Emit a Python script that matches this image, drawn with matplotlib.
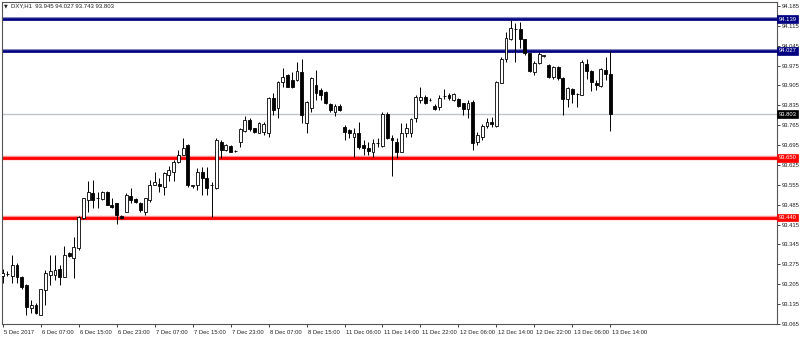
import matplotlib
matplotlib.use("Agg")
import matplotlib.pyplot as plt
import matplotlib.transforms as mtransforms
import numpy as np

opens = [93.235, 93.24, 93.234, 93.273, 93.232, 93.203, 93.12, 93.132, 93.097, 93.185,
         93.238, 93.238, 93.26, 93.232, 93.314, 93.296, 93.332, 93.437, 93.50, 93.528,
         93.508, 93.504, 93.531, 93.484, 93.49, 93.447, 93.461, 93.516, 93.504, 93.492,
         93.461, 93.502, 93.555, 93.558, 93.549, 93.59, 93.602, 93.637, 93.66, 93.695,
         93.552, 93.555, 93.602, 93.578, 93.555, 93.543, 93.707, 93.678, 93.692, 93.675,
         93.707, 93.746, 93.784, 93.754, 93.739, 93.740, 93.737, 93.86, 93.825, 93.918,
         93.942, 93.925, 93.925, 93.954, 93.772, 93.825, 93.907, 93.89, 93.883, 93.84,
         93.813, 93.833, 93.76, 93.748, 93.723, 93.739, 93.695, 93.684, 93.672, 93.702,
         93.692, 93.805, 93.72, 93.707, 93.672, 93.737, 93.737, 93.79, 93.854, 93.866,
         93.854, 93.833, 93.83, 93.867, 93.872, 93.854, 93.856, 93.842, 93.821, 93.848,
         93.707, 93.725, 93.762, 93.778, 93.762, 93.915, 93.997, 94.067, 94.103, 94.103,
         94.067, 94.018, 93.954, 93.983, 94.01, 93.977, 93.934, 93.971, 93.93, 93.856,
         93.892, 93.875, 93.872, 93.98, 93.957, 93.915, 93.903, 93.96, 93.945]
highs = [93.26, 93.25, 93.308, 93.28, 93.235, 93.205, 93.15, 93.14, 93.19, 93.255,
         93.308, 93.308, 93.273, 93.34, 93.32, 93.373, 93.445, 93.51, 93.567, 93.572,
         93.531, 93.535, 93.535, 93.508, 93.49, 93.45, 93.525, 93.543, 93.51, 93.495,
         93.51, 93.572, 93.602, 93.578, 93.602, 93.62, 93.643, 93.678, 93.719, 93.70,
         93.555, 93.614, 93.619, 93.619, 93.566, 93.72, 93.713, 93.70, 93.696, 93.678,
         93.755, 93.797, 93.79, 93.757, 93.778, 93.775, 93.865, 93.88, 93.92, 93.965,
         93.945, 93.954, 93.989, 94.0, 93.85, 93.936, 93.96, 93.895, 93.885, 93.845,
         93.84, 93.84, 93.766, 93.75, 93.754, 93.778, 93.713, 93.707, 93.716, 93.72,
         93.81, 93.81, 93.73, 93.72, 93.772, 93.772, 93.79, 93.87, 93.901, 93.87,
         93.86, 93.84, 93.872, 93.892, 93.88, 93.88, 93.86, 93.845, 93.854, 93.854,
         93.742, 93.77, 93.79, 93.795, 93.92, 94.005, 94.095, 94.136, 94.126, 94.13,
         94.07, 94.02, 93.99, 94.024, 94.013, 93.98, 93.975, 93.975, 93.935, 93.9,
         93.895, 93.88, 93.995, 93.997, 93.96, 93.924, 93.965, 94.004, 94.027]
lows = [93.21, 93.235, 93.208, 93.208, 93.19, 93.097, 93.103, 93.10, 93.095, 93.132,
        93.203, 93.22, 93.203, 93.232, 93.30, 93.226, 93.326, 93.435, 93.461, 93.473,
        93.473, 93.50, 93.484, 93.473, 93.417, 93.435, 93.46, 93.49, 93.49, 93.461,
        93.449, 93.496, 93.555, 93.531, 93.52, 93.567, 93.567, 93.631, 93.66, 93.549,
        93.545, 93.537, 93.52, 93.52, 93.443, 93.54, 93.648, 93.675, 93.67, 93.672,
        93.69, 93.74, 93.745, 93.738, 93.736, 93.73, 93.725, 93.80, 93.79, 93.901,
        93.898, 93.895, 93.922, 93.772, 93.737, 93.813, 93.854, 93.854, 93.84, 93.813,
        93.798, 93.815, 93.713, 93.72, 93.654, 93.68, 93.66, 93.66, 93.654, 93.69,
        93.69, 93.715, 93.586, 93.65, 93.67, 93.725, 93.725, 93.778, 93.842, 93.84,
        93.85, 93.818, 93.818, 93.856, 93.855, 93.85, 93.83, 93.801, 93.79, 93.678,
        93.696, 93.713, 93.755, 93.76, 93.76, 93.912, 93.989, 94.065, 93.989, 94.036,
        94.012, 93.954, 93.942, 93.98, 94.007, 93.93, 93.928, 93.925, 93.801, 93.83,
        93.842, 93.83, 93.87, 93.927, 93.886, 93.889, 93.9, 93.925, 93.743]
closes = [93.245, 93.242, 93.273, 93.232, 93.197, 93.126, 93.132, 93.103, 93.19, 93.244,
          93.25, 93.255, 93.232, 93.308, 93.305, 93.337, 93.443, 93.508, 93.531, 93.502,
          93.508, 93.531, 93.484, 93.478, 93.449, 93.44, 93.52, 93.502, 93.493, 93.467,
          93.508, 93.555, 93.566, 93.552, 93.598, 93.608, 93.637, 93.66, 93.686, 93.555,
          93.553, 93.602, 93.578, 93.543, 93.553, 93.713, 93.678, 93.696, 93.672, 93.675,
          93.751, 93.784, 93.751, 93.742, 93.772, 93.770, 93.86, 93.818, 93.918, 93.936,
          93.901, 93.898, 93.957, 93.801, 93.848, 93.93, 93.877, 93.872, 93.842, 93.819,
          93.833, 93.817, 93.742, 93.737, 93.739, 93.69, 93.684, 93.675, 93.704, 93.703,
          93.805, 93.719, 93.714, 93.672, 93.739, 93.754, 93.786, 93.866, 93.866, 93.845,
          93.855, 93.821, 93.86, 93.869, 93.86, 93.874, 93.833, 93.821, 93.842, 93.701,
          93.731, 93.762, 93.778, 93.77, 93.918, 94.0, 94.071, 94.106, 94.105, 94.067,
          94.018, 93.957, 93.983, 94.016, 94.01, 93.934, 93.969, 93.93, 93.856, 93.895,
          93.875, 93.876, 93.989, 93.957, 93.918, 93.905, 93.962, 93.946, 93.803]

time_labels = ["5 Dec 2017", "6 Dec 07:00", "6 Dec 15:00", "6 Dec 23:00", "7 Dec 07:00",
               "7 Dec 15:00", "7 Dec 23:00", "8 Dec 07:00", "8 Dec 15:00", "11 Dec 06:00",
               "11 Dec 14:00", "11 Dec 22:00", "12 Dec 06:00", "12 Dec 14:00",
               "12 Dec 22:00", "13 Dec 06:00", "13 Dec 14:00"]
label_step = 8
price_ticks = [93.065, 93.135, 93.205, 93.275, 93.345, 93.415, 93.485, 93.555, 93.625,
               93.695, 93.765, 93.835, 93.905, 93.975, 94.045, 94.115, 94.185]
levels = [94.139, 94.027, 93.803, 93.650, 93.440]
level_colors = ["#000080", "#000080", "#c0c6cc", "#ff0000", "#ff0000"]
level_box_colors = ["#000080", "#000080", "#000000", "#ff0000", "#ff0000"]
header = "DXY,H1  93.945 94.027 93.743 93.803"

FONT = "Liberation Sans"
W, H = 800, 338
fig = plt.figure(figsize=(W / 100, H / 100), dpi=100)
ax = fig.add_axes([2 / W, (H - 324) / H, 775 / W, 322 / H])

n = len(opens)
x = np.arange(n)
o = np.array(opens); c = np.array(closes)
hi = np.array(highs); lo = np.array(lows)

# horizontal levels
for lv, col in zip(levels, level_colors):
    if col == "#ff0000":
        ax.axhline(lv, color="#ff9090", lw=3.2, zorder=1)
        ax.axhline(lv, color=col, lw=2.0, zorder=1.1)
    elif col == "#000080":
        ax.axhline(lv, color="#8080c0", lw=2.8, zorder=1)
        ax.axhline(lv, color=col, lw=1.8, zorder=1.1)
    else:
        ax.axhline(lv, color=col, lw=1.0, zorder=1)

# wicks
ax.vlines(x, lo, hi, color="#000000", lw=0.7, zorder=2)
# bodies
up = c >= o
bottoms = np.minimum(o, c)
heights = np.maximum(np.abs(c - o), 0.0008)
ax.bar(x[up], heights[up], bottom=bottoms[up], width=0.6, color="white",
       edgecolor="black", linewidth=0.6, zorder=3)
ax.bar(x[~up], heights[~up], bottom=bottoms[~up], width=0.6, color="black",
       edgecolor="black", linewidth=0.6, zorder=3)

ax.set_xlim(-0.15, 163.1)
ax.set_ylim(93.0653, 94.199)

for side in ["left", "top", "right", "bottom"]:
    ax.spines[side].set_color("#555555")
    ax.spines[side].set_linewidth(0.8)

ax.yaxis.tick_right()
ax.set_yticks(price_ticks)
ax.set_yticklabels([f"{v:.3f}" for v in price_ticks], fontsize=4.2,
                   family=FONT, color="#222222")
ax.tick_params(axis="y", direction="out", length=2, width=0.6, pad=1.5,
               colors="#222222")

ax.set_xticks(np.arange(len(time_labels)) * label_step)
ax.set_xticklabels(time_labels, fontsize=4.2, family=FONT, color="#222222",
                   ha="left")
ax.tick_params(axis="x", direction="out", length=2.5, width=0.6, pad=1.5,
               colors="#222222")
for lbl in ax.get_xticklabels():
    lbl.set_transform(lbl.get_transform() +
                      mtransforms.ScaledTranslation(1.5 / 100, 0, fig.dpi_scale_trans))

# level boxes on price scale
trans = mtransforms.blended_transform_factory(ax.transAxes, ax.transData)
for lv, bc in zip(levels, level_box_colors):
    ax.text(1.0 + 1.5 / 775, lv, f"{lv:.3f}", transform=trans, fontsize=4.2,
            family=FONT, color="white", ha="left", va="center", zorder=10,
            bbox=dict(boxstyle="square,pad=0.25", fc=bc, ec=bc, lw=0.5),
            clip_on=False)

# header
fig.text(4 / W, 1 - 6 / H, "▼", fontsize=3.5, family="DejaVu Sans",
         color="#222222", va="center", ha="left")
fig.text(11 / W, 1 - 6 / H, header, fontsize=4.3, family=FONT,
         color="#222222", va="center", ha="left")

fig.savefig("out.png", dpi=100, facecolor="white")
